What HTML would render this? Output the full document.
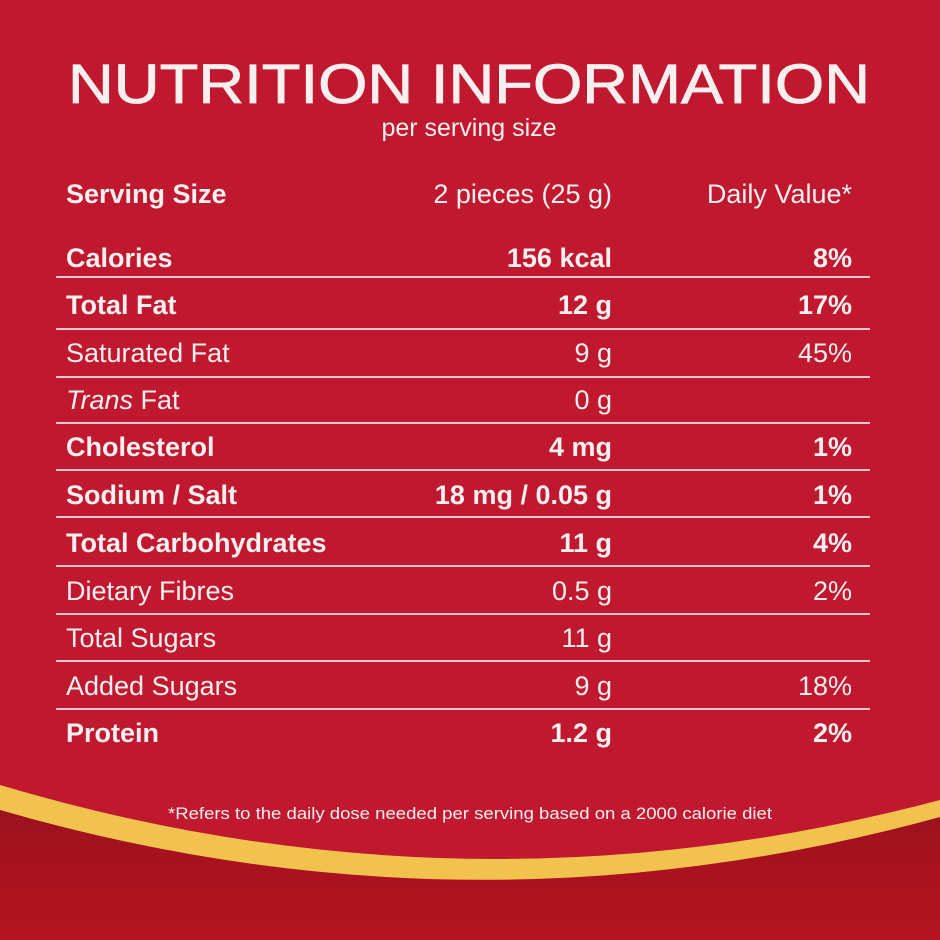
<!DOCTYPE html>
<html><head><meta charset="utf-8"><style>
html,body{margin:0;padding:0;width:940px;height:940px;overflow:hidden;background:#c0182e}
svg{display:block}
text{font-family:"Liberation Sans",sans-serif;fill:#fbeff0}
.b{font-weight:bold}
</style></head><body>
<svg width="940" height="940" viewBox="0 0 940 940">
<defs>
<linearGradient id="bot" x1="0" y1="0" x2="0" y2="1">
<stop offset="0" stop-color="#9a111f"/><stop offset="0.4" stop-color="#a8121f"/><stop offset="1" stop-color="#b3141f"/>
</linearGradient>
</defs>
<rect width="940" height="940" fill="#c0182e"/>
<path d="M0,805 Q470,940 940,812 L940,940 L0,940 Z" fill="url(#bot)"/>
<path d="M0,785 Q470,925 940,800 L940,817 Q470,946 0,810 Z" fill="#f2c24e"/>
<text x="469" y="103" font-size="56" text-anchor="middle" textLength="802" lengthAdjust="spacingAndGlyphs" stroke="#fbeff0" stroke-width="0.8">NUTRITION INFORMATION</text>
<text x="469" y="136" font-size="25" text-anchor="middle">per serving size</text>
<g stroke="#f3c8cc" stroke-width="2">
<line x1="56" x2="870" y1="277" y2="277"/><line x1="56" x2="870" y1="329" y2="329"/>
<line x1="56" x2="870" y1="377" y2="377"/><line x1="56" x2="870" y1="423" y2="423"/>
<line x1="56" x2="870" y1="470" y2="470"/><line x1="56" x2="870" y1="517" y2="517"/>
<line x1="56" x2="870" y1="566" y2="566"/><line x1="56" x2="870" y1="614" y2="614"/>
<line x1="56" x2="870" y1="661" y2="661"/><line x1="56" x2="870" y1="709" y2="709"/>
</g>
<g font-size="27">
<text x="66" y="203" class="b">Serving Size</text>
<text x="612" y="203" text-anchor="end">2 pieces (25 g)</text>
<text x="852" y="203" text-anchor="end">Daily Value*</text>

<text x="66" y="267" class="b">Calories</text><text x="612" y="267" class="b" text-anchor="end">156 kcal</text><text x="852" y="267" class="b" text-anchor="end">8%</text>
<text x="66" y="314" class="b">Total Fat</text><text x="612" y="314" class="b" text-anchor="end">12 g</text><text x="852" y="314" class="b" text-anchor="end">17%</text>
<text x="66" y="362">Saturated Fat</text><text x="612" y="362" text-anchor="end">9 g</text><text x="852" y="362" text-anchor="end">45%</text>
<text x="66" y="409"><tspan font-style="italic">Trans</tspan> Fat</text><text x="612" y="409" text-anchor="end">0 g</text>
<text x="66" y="456" class="b">Cholesterol</text><text x="612" y="456" class="b" text-anchor="end">4 mg</text><text x="852" y="456" class="b" text-anchor="end">1%</text>
<text x="66" y="504" class="b">Sodium / Salt</text><text x="612" y="504" class="b" text-anchor="end">18 mg / 0.05 g</text><text x="852" y="504" class="b" text-anchor="end">1%</text>
<text x="66" y="552" class="b">Total Carbohydrates</text><text x="612" y="552" class="b" text-anchor="end">11 g</text><text x="852" y="552" class="b" text-anchor="end">4%</text>
<text x="66" y="600">Dietary Fibres</text><text x="612" y="600" text-anchor="end">0.5 g</text><text x="852" y="600" text-anchor="end">2%</text>
<text x="66" y="647">Total Sugars</text><text x="612" y="647" text-anchor="end">11 g</text>
<text x="66" y="695">Added Sugars</text><text x="612" y="695" text-anchor="end">9 g</text><text x="852" y="695" text-anchor="end">18%</text>
<text x="66" y="742" class="b">Protein</text><text x="612" y="742" class="b" text-anchor="end">1.2 g</text><text x="852" y="742" class="b" text-anchor="end">2%</text>
</g>
<text x="470" y="819" font-size="16.5" text-anchor="middle" textLength="604" lengthAdjust="spacingAndGlyphs">*Refers to the daily dose needed per serving based on a 2000 calorie diet</text>
</svg>
</body></html>
